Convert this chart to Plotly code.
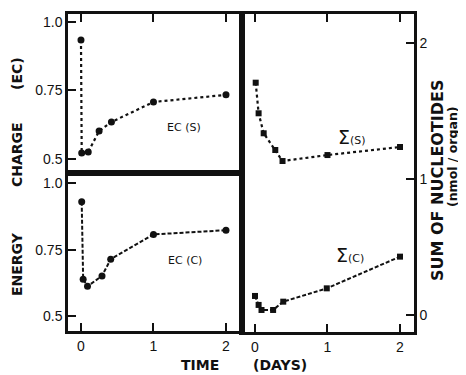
import plotly.graph_objects as go

# ---- data ----
ec_s_time = [0.0, 0.01, 0.10, 0.25, 0.42, 1.0, 2.0]
ec_s = [0.934, 0.522, 0.526, 0.602, 0.635, 0.708, 0.734]

ec_c_time = [0.01, 0.03, 0.09, 0.29, 0.41, 1.0, 2.0]
ec_c = [0.930, 0.639, 0.612, 0.651, 0.714, 0.807, 0.823]

sum_s_time = [0.01, 0.05, 0.12, 0.28, 0.38, 1.0, 2.0]
sum_s = [1.708, 1.483, 1.336, 1.213, 1.132, 1.176, 1.235]

sum_c_time = [0.0, 0.05, 0.09, 0.25, 0.39, 0.99, 2.0]
sum_c = [0.140, 0.074, 0.037, 0.037, 0.098, 0.196, 0.429]

x_ticks = [0, 1, 2]
ec_ticks = [0.5, 0.75, 1.0]
ec_ticktext = ["0.5", "0.75", "1.0"]
sum_ticks = [0, 1, 2]

# page has an 8px body margin; size the figure to the visible area
OFF = 8
W, H = 466 - OFF, 375 - OFF
INK = "#111111"
TICKFONT = dict(family="Liberation Sans Narrow, Liberation Sans, Arial", size=14, color=INK)


def px(x):
    return (x - OFF) / W


def py(y):
    return 1 - (y - OFF) / H


fig = go.Figure()

fig.add_trace(go.Scatter(x=ec_s_time, y=ec_s, mode="lines+markers", xaxis="x", yaxis="y",
                         line=dict(color=INK, width=2.2, dash="dot"),
                         marker=dict(symbol="circle", size=7, color=INK)))
fig.add_trace(go.Scatter(x=ec_c_time, y=ec_c, mode="lines+markers", xaxis="x2", yaxis="y2",
                         line=dict(color=INK, width=2, dash="4px,2px"),
                         marker=dict(symbol="circle", size=7, color=INK)))
fig.add_trace(go.Scatter(x=sum_s_time, y=sum_s, mode="lines+markers", xaxis="x3", yaxis="y3",
                         line=dict(color=INK, width=2.2, dash="dot"),
                         marker=dict(symbol="square", size=6, color=INK)))
fig.add_trace(go.Scatter(x=sum_c_time, y=sum_c, mode="lines+markers", xaxis="x3", yaxis="y3",
                         line=dict(color=INK, width=2, dash="4px,2px"),
                         marker=dict(symbol="square", size=6, color=INK)))

common = dict(showline=True, linecolor=INK, linewidth=2.5, showgrid=False, zeroline=False,
              ticks="inside", ticklen=8, tickwidth=2.2, tickcolor=INK, tickfont=TICKFONT)

xl_dom = [px(68), px(242)]
xr_dom = [px(242), px(414)]

fig.update_layout(
    width=W, height=H,
    margin=dict(l=0, r=0, t=0, b=0),
    paper_bgcolor="white", plot_bgcolor="white",
    showlegend=False,
    xaxis=dict(domain=xl_dom, range=[-0.179, 2.221], anchor="y", side="top",
               tickvals=x_ticks, showticklabels=False, mirror=True, **common),
    yaxis=dict(domain=[py(173), py(14)], range=[0.449, 1.029], anchor="x",
               tickvals=ec_ticks, ticktext=ec_ticktext, mirror=True, **common),
    xaxis2=dict(domain=xl_dom, range=[-0.179, 2.221], anchor="y2",
                tickvals=x_ticks, mirror=True, **common),
    yaxis2=dict(domain=[py(331), py(173)], range=[0.444, 1.038], anchor="x2",
                tickvals=ec_ticks, ticktext=ec_ticktext, mirror=True, **common),
    xaxis3=dict(domain=xr_dom, range=[-0.179, 2.193], anchor="y3",
                tickvals=x_ticks, mirror="ticks", **common),
    yaxis3=dict(domain=[py(332), py(14)], range=[-0.125, 2.213], anchor="x3", side="right",
                tickvals=sum_ticks, mirror=True, **common),
)

ann = []


def label(text, x, y, font, angle=0):
    ann.append(dict(text=text, x=px(x), y=py(y), xref="paper", yref="paper",
                    showarrow=False, font=font, textangle=angle,
                    xanchor="center", yanchor="middle"))


bold = dict(family="DejaVu Sans", size=14, color=INK, weight="bold")
label("ENERGY", 17, 264, bold, -90)
label("CHARGE", 17, 155, bold, -90)
label("(EC)", 17, 74, bold, -90)
label("SUM OF NUCLEOTIDES", 437, 180, dict(family="DejaVu Sans", size=16, color=INK, weight="bold"), -90)
label("(nmol / organ)", 452, 157, dict(family="DejaVu Sans", size=12.5, color=INK, weight="bold"), -90)
label("TIME", 200, 365, bold)
label("(DAYS)", 280, 365, bold)

small = dict(family="DejaVu Sans", size=11, color=INK)
label("EC (S)", 184, 128, small)
label("EC (C)", 185, 260, small)
label("<span style='font-size:19px'>Σ</span>(S)", 352, 137, small)
label("<span style='font-size:19px'>Σ</span>(C)", 350, 255, small)

fig.update_layout(annotations=ann)

fig.write_html("out.html")
